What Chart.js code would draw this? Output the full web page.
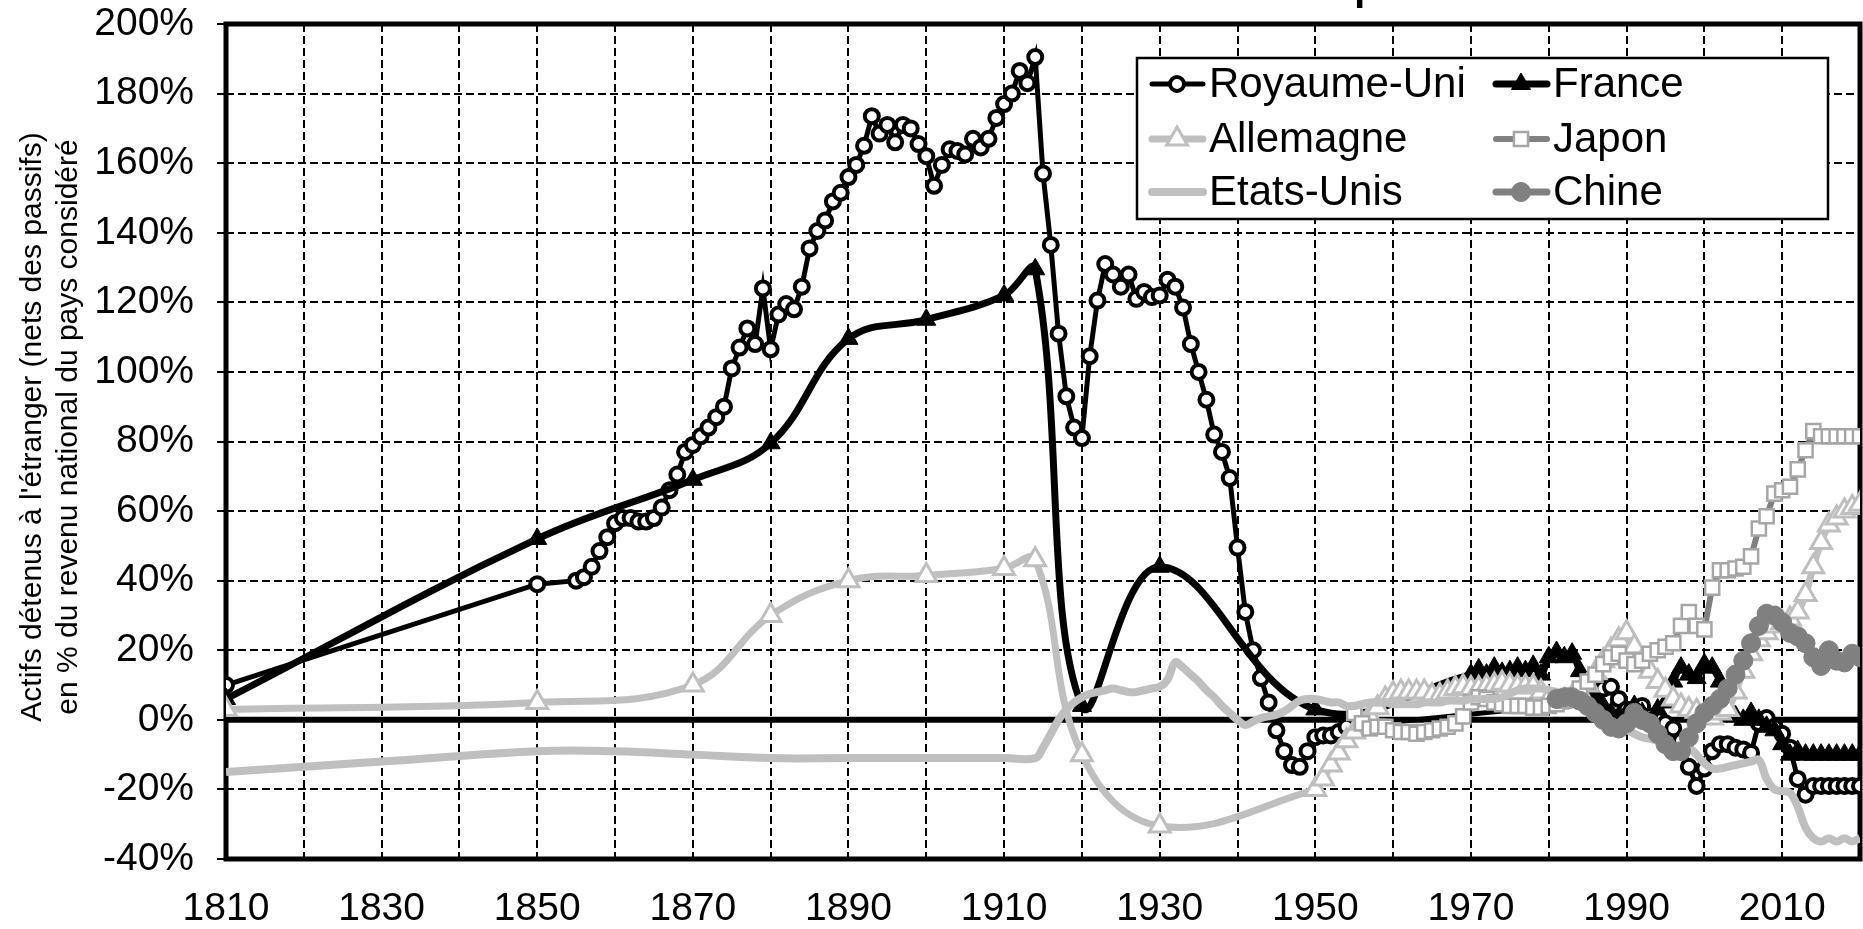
<!DOCTYPE html>
<html>
<head>
<meta charset="utf-8">
<script src="https://cdn.jsdelivr.net/npm/chart.js@4.4.1/dist/chart.umd.min.js"></script>
<style>
    html, body { margin: 0; padding: 0; background: #fff; }
    #wrap { position: relative; width: 1863px; height: 929px; }
</style>
</head>
<body>
<div id="wrap"><canvas id="chart"></canvas></div>
<script>
var chartTitle = 'Le sommet colonial franco-britannique';
var yAxisTitle = ["Actifs détenus à l'étranger (nets des passifs)", 'en % du revenu national du pays considéré'];
var seriesNames = ['Royaume-Uni', 'France', 'Allemagne', 'Japon', 'Etats-Unis', 'Chine'];
var xLabelYears = [1810, 1830, 1850, 1870, 1890, 1910, 1930, 1950, 1970, 1990, 2010];
var yTickValues = [-40, -20, 0, 20, 40, 60, 80, 100, 120, 140, 160, 180, 200];

//list of consecutive years (x positions only)
function yearRange(from, to) {
    var list = [];
    for (var y = from; y <= to; y++) list.push(y);
    return list;
}

var ukYears = [1810, 1850].concat(yearRange(1855, 1954), yearRange(1985, 2020));
var ukValues = [10, 39,
    40, 41, 44, 48.5, 52.5,
    56.5, 58, 58, 57, 57, 58, 61, 66, 70.5, 77,
    79, 81.5, 84, 87, 90, 101, 107, 112.5, 108, 124,
    106.5, 116.5, 119.5, 118, 124.5, 135.5, 140.5, 143.5, 149, 151.5,
    156, 159.5, 165, 173.5, 168.5, 171, 166, 171, 170, 165.5,
    162, 153.5, 159.5, 164, 163.5, 162.5, 167, 164.5, 167, 173,
    177, 180, 186.5, 183, 190.5, 157, 136.5, 111, 93, 84,
    81, 104.5, 120.5, 131, 128, 124.5, 128, 121, 123, 121.5,
    122, 126.5, 124.5, 118.5, 108, 100, 92, 82, 77, 69.5,
    49.5, 31, 20, 12, 5, -3, -9, -13, -13.5, -9,
    -5, -4.5, -4.5, -3.5, -2,
    5, 7, 9, 9.5, 6,
    3, 3, 4, 1, 0, -1, -2.5, -6, -13.5, -19,
    -14, -9, -7, -7, -8, -8.5, -9.5, -1, 0.5, -2,
    -4, -8, -17, -21.5, -19, -19, -19, -19, -19, -19,
    -19];

var franceYears = [1810, 1850, 1870, 1880, 1890, 1900, 1910, 1914, 1920, 1930, 1950].concat(yearRange(1970, 2020));
var franceValues = [6, 52, 69, 79.5, 109.5, 115, 122, 129.5, 4, 44, 3,
    13, 14.5, 13, 15, 13.5, 14, 15, 14, 15.5, 13,
    18, 19.5, 18, 19, 14, 10, 7, 4, 2, 1,
    2, 4, 2, -1, 3, 5, 11, 15, 13, 12,
    16, 15, 11, 4, 1, 0, 2, 0, -2, -3,
    -7, -10, -9, -10, -10, -10, -10, -10, -10, -10,
    -10];

var germanyYears = [1810, 1850, 1870, 1880, 1890, 1900, 1910, 1914, 1920, 1930].concat(yearRange(1950, 2020));
var germanyValues = [3, 5, 10, 30, 40, 41.5, 43.5, 46, -10, -30.5,
    -20, -17, -13, -9.5, -6, -3.5, -1, 1, 3.5, 6,
    7.5, 8, 8, 8, 8, 7, 7, 8, 9, 9.5,
    9, 9, 9.5, 10, 10.5, 10, 9.5, 9.5, 9.5, 8,
    6, 5, 5.5, 6.5, 8, 10, 13.5, 17, 20, 23,
    25, 21, 17, 14, 11, 8.5, 6, 4, 3, 2.5,
    1, 0.5, 2, 3, 8, 14, 19, 23, 25, 27,
    28, 29, 31, 36, 44, 51, 56, 58, 60, 61,
    62];

var japanYears = yearRange(1955, 2020);
var japanValues = [2, -1, -2.5, -2, -2,
    -3, -3.5, -3.5, -4, -3.5, -3, -2.5, -2, -1, 1,
    5, 6.5, 6, 5, 4.5, 4, 4, 4, 3.5, 3.5,
    4, 4.5, 5.5, 7, 9, 11, 13, 16, 18, 19,
    17, 16, 17, 19, 20, 21, 22, 27, 31, 27,
    26, 38, 43, 43, 43.5, 44, 47, 55, 58.5, 65,
    66, 67, 72, 77.5, 83, 81.5, 81.5, 81.5, 81.5, 81.5,
    81.5];

var usYears = [1810, 1830, 1850, 1860, 1870, 1880, 1890, 1900, 1910].concat(yearRange(1914, 2020));
var usValues = [-15, -12, -9, -9, -10, -11, -11, -11, -11,
    -11, -8, -4, 0, 3, 5,
    6.5, 7.5, 8, 8.5, 9, 8.5, 8, 8, 8.5, 9,
    9.5, 11.5, 16.5, 15, 13, 11, 8.5, 6.5, 4, 2,
    0, -1.5, -0.5, 0.5, 1, 1.5, 2.5, 4, 5.5, 6,
    6, 5.5, 5, 5, 4, 4, 4.5, 5, 5, 5,
    4.5, 4.5, 4.5, 4.5, 5, 5, 5, 5.5, 5.5, 5.5,
    6, 6, 6, 6, 6.5, 7.5, 8.5, 9, 9, 9,
    8.5, 8, 7.5, 6.5, 5, 3, 1, -1, -2, -3,
    -3, -4, -5, -5.5, -6, -7, -7.5, -8, -8, -10,
    -12.5, -14, -14, -13.5, -13, -12.5, -12, -11.5, -17, -20,
    -20.5, -21, -25, -31, -34, -35, -34, -35, -34, -35,
    -34];

var chinaYears = yearRange(1981, 2020);
var chinaValues = [6, 6.5, 6.5, 5.5, 4, 2, 0, -2, -2.5,
    -1, 2, 0, -1, -4, -7, -9, -9, -5, -1,
    2, 4, 6, 9, 13, 17, 22, 27, 30.5, 30,
    28, 25, 24, 22, 18, 15.5, 20, 17, 16.5, 19,
    18];

function toPoints(years, values) {
    return years.map(function (year, i) {
        return { x: year, y: values[i] };
    });
}

var fontFamily = '"Liberation Sans", Arial, sans-serif';
Chart.defaults.font.family = fontFamily;
Chart.defaults.color = '#000';

var datasets = [
    {
        label: seriesNames[0], data: toPoints(ukYears, ukValues), order: 6,
        borderColor: '#000', borderWidth: 5, tension: 0,
        pointStyle: 'circle', pointRadius: 7, pointBorderWidth: 4,
        pointBackgroundColor: '#fff', pointBorderColor: '#000'
    },
    {
        label: seriesNames[1], data: toPoints(franceYears, franceValues), order: 5,
        borderColor: '#000', borderWidth: 7, tension: 0.4,
        pointStyle: 'triangle', pointRadius: 11, pointBorderWidth: 1,
        pointBackgroundColor: '#000', pointBorderColor: '#000'
    },
    {
        label: seriesNames[2], data: toPoints(germanyYears, germanyValues), order: 4,
        borderColor: '#bfbfbf', borderWidth: 7, tension: 0.4,
        pointStyle: 'triangle', pointRadius: 12, pointBorderWidth: 3,
        pointBackgroundColor: '#fff', pointBorderColor: '#bfbfbf'
    },
    {
        label: seriesNames[3], data: toPoints(japanYears, japanValues), order: 3,
        borderColor: '#808080', borderWidth: 6, tension: 0,
        pointStyle: 'rect', pointRadius: 10, pointBorderWidth: 2.5,
        pointBackgroundColor: '#fff', pointBorderColor: '#a6a6a6'
    },
    {
        label: seriesNames[4], data: toPoints(usYears, usValues), order: 2,
        borderColor: '#bfbfbf', borderWidth: 8, tension: 0.4,
        pointRadius: 0, pointStyle: false
    },
    {
        label: seriesNames[5], data: toPoints(chinaYears, chinaValues), order: 1,
        borderColor: '#808080', borderWidth: 7, tension: 0,
        pointStyle: 'circle', pointRadius: 9.5, pointBorderWidth: 1,
        pointBackgroundColor: '#808080', pointBorderColor: '#808080'
    }
];

//frame and zero line under the series
var framePlugin = {
    id: 'frame',
    beforeDatasetsDraw: function (chart) {
        var ctx = chart.ctx, a = chart.chartArea;
        var y0 = chart.scales.y.getPixelForValue(0);
        ctx.save();
        ctx.strokeStyle = '#000';
        ctx.lineWidth = 6;
        ctx.beginPath();
        ctx.moveTo(a.left, y0);
        ctx.lineTo(a.right, y0);
        ctx.stroke();
        ctx.lineWidth = 5;
        ctx.strokeRect(a.left, a.top, a.right - a.left, a.bottom - a.top);
        ctx.restore();
    }
};

function drawMarker(ctx, ds, x, y) {
    var style = ds.pointStyle, r = ds.pointRadius;
    if (!style || !r) return;
    ctx.fillStyle = ds.pointBackgroundColor;
    ctx.strokeStyle = ds.pointBorderColor;
    ctx.lineWidth = ds.pointBorderWidth;
    ctx.beginPath();
    if (style === 'circle') {
        ctx.arc(x, y, r, 0, Math.PI * 2);
    } else if (style === 'triangle') {
        for (var k = 0; k < 3; k++) {
            var ang = k * 2 * Math.PI / 3;
            var px = x + Math.sin(ang) * r, py = y - Math.cos(ang) * r;
            if (k === 0) ctx.moveTo(px, py); else ctx.lineTo(px, py);
        }
        ctx.closePath();
    } else if (style === 'rect') {
        var s = r * Math.SQRT1_2;
        ctx.rect(x - s, y - s, 2 * s, 2 * s);
    }
    ctx.fill();
    ctx.stroke();
}

//two-column legend box inside the plot
var legendPlugin = {
    id: 'boxLegend',
    afterDatasetsDraw: function (chart) {
        var ctx = chart.ctx;
        var box = { left: 1137, top: 58, right: 1828, bottom: 219 };
        var colX = [1149, 1493], rowY = [84, 139, 192];
        ctx.save();
        ctx.fillStyle = '#fff';
        ctx.fillRect(box.left, box.top, box.right - box.left, box.bottom - box.top);
        ctx.strokeStyle = '#000';
        ctx.lineWidth = 2.5;
        ctx.strokeRect(box.left, box.top, box.right - box.left, box.bottom - box.top);
        chart.data.datasets.forEach(function (ds, i) {
            var x = colX[i % 2], y = rowY[Math.floor(i / 2)];
            ctx.strokeStyle = ds.borderColor;
            ctx.lineWidth = ds.borderWidth;
            ctx.lineCap = 'round';
            ctx.beginPath();
            ctx.moveTo(x + 3, y);
            ctx.lineTo(x + 54, y);
            ctx.stroke();
            ctx.lineCap = 'butt';
            drawMarker(ctx, ds, x + 28, y);
            ctx.fillStyle = '#000';
            ctx.font = '42px ' + fontFamily;
            ctx.textAlign = 'left';
            ctx.textBaseline = 'middle';
            ctx.fillText(ds.label, x + 60, y + 1);
        });
        ctx.restore();
    }
};

//chart title (mostly above the picture) and the two-line y axis title
var textPlugin = {
    id: 'texts',
    afterDraw: function (chart) {
        var ctx = chart.ctx, a = chart.chartArea;
        ctx.save();
        ctx.fillStyle = '#000';
        ctx.font = 'bold 40px ' + fontFamily;
        ctx.textAlign = 'center';
        ctx.textBaseline = 'alphabetic';
        ctx.fillText(chartTitle, (a.left + a.right) / 2, 0.3);

        ctx.translate(33, 427);
        ctx.rotate(-Math.PI / 2);
        ctx.font = '30px ' + fontFamily;
        ctx.textBaseline = 'middle';
        ctx.fillText(yAxisTitle[0], 0, 0);
        ctx.fillText(yAxisTitle[1], 0, 36);
        ctx.restore();
    }
};

new Chart(document.getElementById('chart'), {
    type: 'line',
    data: { datasets: datasets },
    options: {
        responsive: true,
        maintainAspectRatio: false,
        animation: false,
        devicePixelRatio: 1,
        layout: { autoPadding: false, padding: { left: 0, right: 3, top: 24, bottom: 0 } },
        plugins: {
            legend: { display: false },
            tooltip: { enabled: false },
            title: { display: false }
        },
        elements: { line: { fill: false } },
        scales: {
            x: {
                type: 'linear',
                min: 1810,
                max: 2020,
                afterFit: function (scale) {
                    scale.height = 70;
                    scale.paddingLeft = 0;
                    scale.paddingRight = 0;
                },
                afterBuildTicks: function (scale) {
                    var list = [];
                    for (var v = 1810; v <= 2020; v += 10) list.push({ value: v });
                    scale.ticks = list;
                },
                ticks: {
                    autoSkip: false,
                    maxRotation: 0,
                    padding: 27,
                    font: { size: 39 },
                    callback: function (value) {
                        return xLabelYears.indexOf(value) >= 0 ? String(value) : '';
                    }
                },
                grid: { color: '#000', lineWidth: 2, drawTicks: false },
                border: { display: false, dash: [8, 4] }
            },
            y: {
                min: -40,
                max: 200,
                afterFit: function (scale) {
                    scale.width = 226;
                    scale.paddingTop = 0;
                    scale.paddingBottom = 0;
                },
                afterBuildTicks: function (scale) {
                    scale.ticks = yTickValues.map(function (v) { return { value: v }; });
                },
                ticks: {
                    padding: 23,
                    font: { size: 39 },
                    callback: function (value) { return value + '%'; }
                },
                grid: { color: '#000', lineWidth: 2, tickLength: 9, tickColor: '#000', tickWidth: 2 },
                border: { display: false, dash: [8, 4] }
            }
        }
    },
    plugins: [framePlugin, legendPlugin, textPlugin]
});
</script>
</body>
</html>
